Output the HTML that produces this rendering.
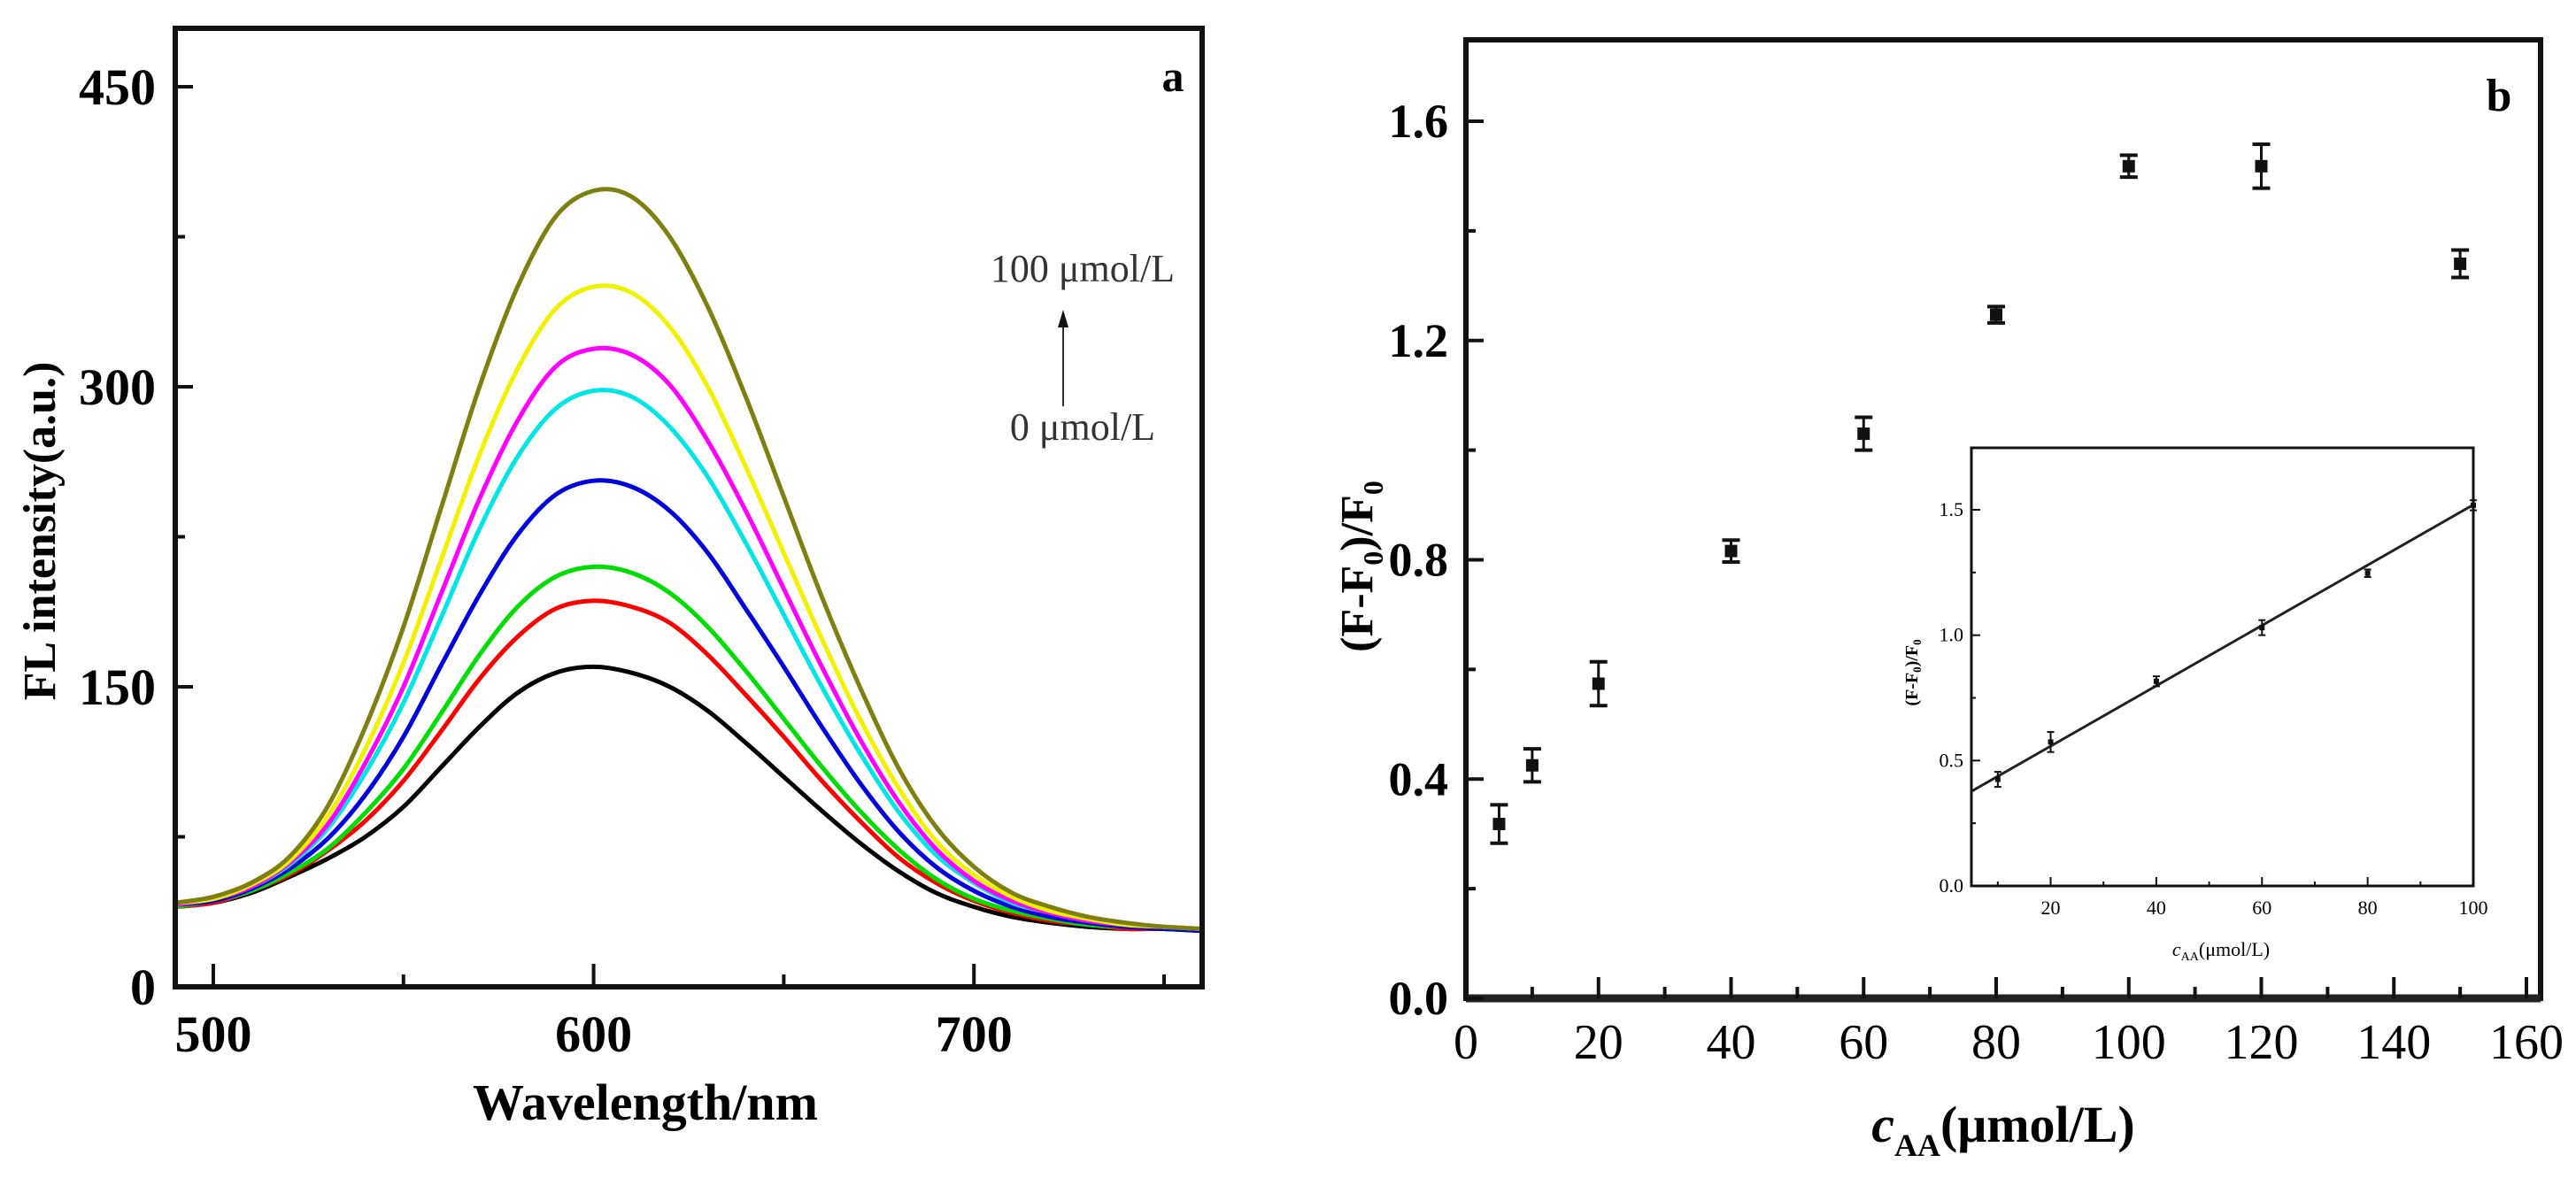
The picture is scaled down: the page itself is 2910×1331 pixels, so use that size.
<!DOCTYPE html>
<html><head><meta charset="utf-8"><style>
html,body{margin:0;padding:0;background:#fff;}
svg{display:block;font-family:"Liberation Serif",serif;}
</style></head><body>
<svg id="fig" width="2910" height="1331" viewBox="0 0 2910 1331" xmlns="http://www.w3.org/2000/svg">
<rect width="2910" height="1331" fill="#fff"/>
<g id="pa"></g>
<g id="pb"></g>
<g id="pi"></g>
</svg>
<script>
// ---------- Panel a data ----------
const wavelengths = [490,500,510,520,530,540,550,560,570,580,590,600,610,620,630,640,650,660,670,680,690,700,710,720,730,740,750,760];
const seriesBlack   = [40,42,47,55,64,75,90,110,130,147,157,160,157,150,138,122,105,88,72,58,47,40,35,32,30,29,29,28];
const seriesRed     = [40,42,48,56,68,83,103,128,154,175,189,193,190,182,166,146,125,103,83,65,52,43,37,33,31,29,29,28];
const seriesGreen   = [40,43,48,57,69,87,109,137,166,190,205,210,207,197,180,158,134,110,88,69,54,44,38,34,31,30,29,28];
const seriesBlue    = [41,43,49,59,74,96,125,161,196,226,246,253,250,238,217,189,160,130,102,78,60,48,40,35,32,30,29,28];
const seriesCyan    = [41,44,50,61,79,107,142,185,229,265,289,298,295,280,255,222,186,150,117,88,66,52,42,37,33,31,30,29];
const seriesMagenta = [41,44,50,62,81,112,150,197,244,283,310,319,316,301,273,238,199,160,124,93,69,53,43,37,33,31,30,29];
const seriesYellow  = [42,44,51,63,85,119,162,214,266,309,339,350,347,330,300,260,217,174,134,100,73,56,45,38,34,31,30,29];
const seriesOlive   = [42,45,52,65,90,130,180,240,300,350,385,398,395,375,340,295,245,195,150,110,80,60,47,40,35,32,30,29];
const aXTicks = [500,600,700];
const aYTicks = [0,150,300,450];
// ---------- Panel b data ----------
const concX = [5,10,20,40,60,80,100,120,150];
const ratioY = [0.318,0.425,0.574,0.816,1.03,1.247,1.518,1.518,1.34];
const ratioErr = [0.035,0.03,0.04,0.02,0.03,0.015,0.02,0.04,0.025];
const bXTicks = [0,20,40,60,80,100,120,140,160];
const bYTicks = [0.0,0.4,0.8,1.2,1.6];
// ---------- Inset data ----------
const insetX = [10,20,40,60,80,100];
const insetY = [0.425,0.574,0.816,1.03,1.247,1.518];
const insetErr = [0.03,0.04,0.02,0.03,0.015,0.02];
const fitSlope = 0.01203;
const fitIntercept = 0.317;
const iXTicks = [20,40,60,80,100];
const iYTicks = [0.0,0.5,1.0,1.5];

const NS="http://www.w3.org/2000/svg";
function mk(parent,tag,attrs,text){const e=document.createElementNS(NS,tag);for(const k in attrs)e.setAttribute(k,attrs[k]);if(text!==undefined)e.textContent=text;parent.appendChild(e);return e;}

// ===== Panel a =====
const pa=document.getElementById('pa');
const aL=198,aR=1358,aT=32,aB=1115;
const ax=v=>aL+(v-490)/(760-490)*(aR-aL);
const ay=v=>aB-v/450*(aB-98);
const colors=['#000000','#ff0000','#00dd00','#0000dd','#00e5e5','#ff00ff','#f2f200','#7f7f10'];
const names=['curve-0','curve-1','curve-2','curve-3','curve-4','curve-5','curve-6','curve-7'];
const allSeries=[seriesBlack,seriesRed,seriesGreen,seriesBlue,seriesCyan,seriesMagenta,seriesYellow,seriesOlive];
function smoothPath(pts){
  let d='M'+pts[0][0].toFixed(1)+','+pts[0][1].toFixed(1);
  for(let i=0;i<pts.length-1;i++){
    const p0=pts[Math.max(0,i-1)],p1=pts[i],p2=pts[i+1],p3=pts[Math.min(pts.length-1,i+2)];
    const c1x=p1[0]+(p2[0]-p0[0])/6,c1y=p1[1]+(p2[1]-p0[1])/6;
    const c2x=p2[0]-(p3[0]-p1[0])/6,c2y=p2[1]-(p3[1]-p1[1])/6;
    d+='C'+c1x.toFixed(1)+','+c1y.toFixed(1)+' '+c2x.toFixed(1)+','+c2y.toFixed(1)+' '+p2[0].toFixed(1)+','+p2[1].toFixed(1);
  }
  return d;
}
allSeries.forEach((s,i)=>{
  const pts=s.map((v,k)=>[ax(wavelengths[k]),ay(v)]);
  const p=mk(pa,'path',{d:smoothPath(pts),fill:'none',stroke:colors[i],'stroke-width':5,'stroke-linejoin':'round'});
  
  
});
const fa=mk(pa,'rect',{x:aL,y:aT,width:aR-aL,height:aB-aT,fill:'none',stroke:'#111','stroke-width':6});


for(let v=500;v<=750;v+=50){
  const maj=v%100===0;
  mk(pa,'line',{x1:ax(v),x2:ax(v),y1:aB,y2:aB-(maj?26:14),stroke:'#111','stroke-width':4});
}
aXTicks.forEach(v=>{
  const t=mk(pa,'text',{x:ax(v),y:1188,'text-anchor':'middle','font-size':58,'font-weight':'bold'},String(v));
  
  
});
for(let v=0;v<=450;v+=75){
  const maj=v%150===0;
  mk(pa,'line',{x1:aL,x2:aL+(maj?20:11),y1:ay(v),y2:ay(v),stroke:'#111','stroke-width':4});
}
aYTicks.forEach(v=>{
  const t=mk(pa,'text',{x:176,y:ay(v)+20,'text-anchor':'end','font-size':58,'font-weight':'bold'},String(v));
  
  
});
const axt=mk(pa,'text',{x:729,y:1265,'text-anchor':'middle','font-size':58,'font-weight':'bold'},'Wavelength/nm');


const ayt=mk(pa,'text',{x:0,y:0,'text-anchor':'middle','font-size':52,'font-weight':'bold',transform:'translate(62,600) rotate(-90)'},'FL intensity(a.u.)');


const la=mk(pa,'text',{x:1325,y:103,'text-anchor':'middle','font-size':50,'font-weight':'bold'},'a');


const t100=mk(pa,'text',{x:1223,y:318,'text-anchor':'middle','font-size':44,fill:'#333'},'100 μmol/L');


const t0=mk(pa,'text',{x:1223,y:497,'text-anchor':'middle','font-size':44,fill:'#333'},'0 μmol/L');


mk(pa,'line',{x1:1201,x2:1201,y1:459,y2:365,stroke:'#333','stroke-width':2});
const arr=mk(pa,'polygon',{points:'1201,350 1195,370 1207,370',fill:'#111'});



// ===== Panel b =====
const pb=document.getElementById('pb');
const bL=1656,bR=2870,bT=45,bB=1128;
const bx=v=>bL+v/160*(2854-bL);
const by=v=>bB-v/1.6*(bB-137);
const fb=mk(pb,'rect',{x:bL,y:bT,width:bR-bL,height:bB-bT,fill:'none',stroke:'#111','stroke-width':6});


mk(pb,'line',{x1:bL,x2:bR,y1:bB,y2:bB,stroke:'#222','stroke-width':9});
for(let v=0;v<=160;v+=10){
  const maj=v%20===0;
  mk(pb,'line',{x1:bx(v),x2:bx(v),y1:bB,y2:bB-(maj?24:13),stroke:'#111','stroke-width':4});
}
bXTicks.forEach(v=>{
  const t=mk(pb,'text',{x:bx(v),y:1196,'text-anchor':'middle','font-size':56},String(v));
  
  
});
for(let v=0;v<=1.6001;v+=0.2){
  const maj=Math.round(v*10)%4===0;
  mk(pb,'line',{x1:bL,x2:bL+(maj?20:11),y1:by(v),y2:by(v),stroke:'#111','stroke-width':4});
}
bYTicks.forEach(v=>{
  const t=mk(pb,'text',{x:1636,y:by(v)+18,'text-anchor':'end','font-size':54,'font-weight':'bold'},v.toFixed(1));
  
  
});
concX.forEach((c,i)=>{
  const g=mk(pb,'g',{});
  
  
  const x=bx(c),y=by(ratioY[i]),e=ratioErr[i]*(bB-137)/1.6;
  mk(g,'line',{x1:x,x2:x,y1:y-e,y2:y+e,stroke:'#111','stroke-width':3});
  mk(g,'line',{x1:x-10,x2:x+10,y1:y-e,y2:y-e,stroke:'#111','stroke-width':4});
  mk(g,'line',{x1:x-10,x2:x+10,y1:y+e,y2:y+e,stroke:'#111','stroke-width':4});
  mk(g,'rect',{x:x-7,y:y-7,width:14,height:14,fill:'#111'});
});
const bxt=mk(pb,'text',{x:2263,y:1290,'text-anchor':'middle','font-size':58,'font-weight':'bold'});


mk(bxt,'tspan',{'font-style':'italic'},'c');
mk(bxt,'tspan',{'font-size':36,dy:16},'AA');
mk(bxt,'tspan',{dy:-16},'(μmol/L)');
const byt=mk(pb,'text',{x:0,y:0,'text-anchor':'middle','font-size':52,'font-weight':'bold',transform:'translate(1550,640) rotate(-90)'});


mk(byt,'tspan',{},'(F-F');
mk(byt,'tspan',{'font-size':32,dy:12},'0');
mk(byt,'tspan',{dy:-12},')/F');
mk(byt,'tspan',{'font-size':32,dy:12},'0');
const lb=mk(pb,'text',{x:2823,y:125,'text-anchor':'middle','font-size':52,'font-weight':'bold'},'b');



// ===== Inset =====
const pi=document.getElementById('pi');
const iL=2227,iR=2794,iT=506,iB=1001;
const ix=v=>iL+(v-5)/95*(iR-iL);
const iy=v=>iB-v*(iB-576)/1.5;
const fi=mk(pi,'rect',{x:iL,y:iT,width:iR-iL,height:iB-iT,fill:'#fff',stroke:'#111','stroke-width':3});


for(let v=10;v<=100;v+=10){
  mk(pi,'line',{x1:ix(v),x2:ix(v),y1:iB,y2:iB-(v%20===0?10:5),stroke:'#111','stroke-width':2});
}
iXTicks.forEach(v=>{
  const t=mk(pi,'text',{x:ix(v),y:1033,'text-anchor':'middle','font-size':22},String(v));
  
  
});
for(let v=0;v<=1.5001;v+=0.25){
  mk(pi,'line',{x1:iL,x2:iL+(Math.round(v*100)%50===0?10:5),y1:iy(v),y2:iy(v),stroke:'#111','stroke-width':2});
}
iYTicks.forEach(v=>{
  const t=mk(pi,'text',{x:2218,y:iy(v)+7,'text-anchor':'end','font-size':22},v.toFixed(1));
  
  
});
const fit=mk(pi,'line',{x1:ix(5),y1:iy(fitSlope*5+fitIntercept),x2:ix(100),y2:iy(fitSlope*100+fitIntercept),stroke:'#222','stroke-width':3});


insetX.forEach((c,i)=>{
  const g=mk(pi,'g',{});
  
  
  const x=ix(c),y=iy(insetY[i]),e=insetErr[i]*(iB-576)/1.5;
  mk(g,'line',{x1:x,x2:x,y1:y-e,y2:y+e,stroke:'#111','stroke-width':2});
  mk(g,'line',{x1:x-4,x2:x+4,y1:y-e,y2:y-e,stroke:'#111','stroke-width':2});
  mk(g,'line',{x1:x-4,x2:x+4,y1:y+e,y2:y+e,stroke:'#111','stroke-width':2});
  mk(g,'rect',{x:x-3,y:y-3,width:6,height:6,fill:'#111'});
});
const ixt=mk(pi,'text',{x:2509,y:1080,'text-anchor':'middle','font-size':22});


mk(ixt,'tspan',{'font-style':'italic'},'c');
mk(ixt,'tspan',{'font-size':14,dy:5},'AA');
mk(ixt,'tspan',{dy:-5},'(μmol/L)');
const iyt=mk(pi,'text',{x:0,y:0,'text-anchor':'middle','font-size':20,'font-weight':'bold',transform:'translate(2166,760) rotate(-90)'});


mk(iyt,'tspan',{},'(F-F');
mk(iyt,'tspan',{'font-size':13,dy:4},'0');
mk(iyt,'tspan',{dy:-4},')/F');
mk(iyt,'tspan',{'font-size':13,dy:4},'0');
</script>
</body></html>
